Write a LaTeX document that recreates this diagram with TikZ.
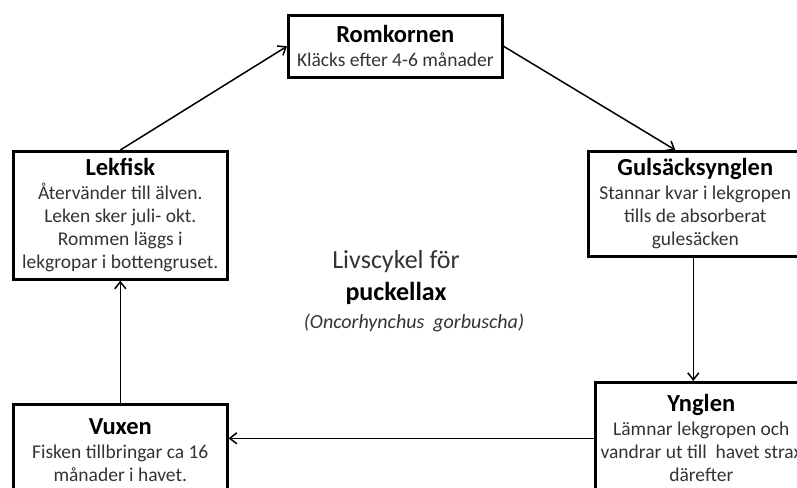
\documentclass[tikz,border=0pt]{standalone}
\usepackage{fontspec}
\setmainfont{Carlito}
\usetikzlibrary{arrows.meta}
\definecolor{bodygray}{HTML}{333333}
\tikzset{
  stagebox/.style={draw=black, line width=2.6pt, fill=white, align=center, inner sep=2pt,
    font=\fontsize{19.5}{23}\selectfont, text=bodygray, anchor=north west},
  conn/.style={line width=1.5pt, -{Straight Barb[length=7pt,width=11pt,line width=1.5pt]}},
}
\newcommand{\stitle}[1]{{\fontsize{24.5}{26}\selectfont\bfseries\color{black}#1}\\[1pt]}
\begin{document}
\begin{tikzpicture}[x=1pt,y=-1pt]
\useasboundingbox (0,0) rectangle (797,487);
\clip (0,0) rectangle (797,487);
\node[stagebox, minimum width=214pt, minimum height=62pt] (rom) at (287,14)
  {\stitle{Romkornen}Kläcks efter 4-6 månader};
\node[stagebox, minimum width=214pt, minimum height=105pt] (gul) at (587,150)
  {\stitle{Gulsäcksynglen}Stannar kvar i lekgropen\\tills de absorberat\\gulesäcken};
\node[stagebox, minimum width=212pt, minimum height=112pt] (yng) at (594,381)
  {\stitle{Ynglen}Lämnar lekgropen och\\vandrar ut till\ \ havet strax\\därefter};
\node[stagebox, minimum width=214pt, minimum height=92pt] (vux) at (12,403)
  {\stitle{Vuxen}Fisken tillbringar ca 16\\månader i havet.};
\node[stagebox, minimum width=214pt, minimum height=128pt] (lek) at (12,150)
  {\stitle{Lekfisk}Återvänder till älven.\\Leken sker juli- okt.\\Rommen läggs i\\lekgropar i bottengruset.};

\node[text=bodygray, font=\fontsize{26}{30}\selectfont] (t1) at (396,262) {Livscykel för};
\node[text=black, font=\fontsize{26}{30}\selectfont\bfseries] (t2) at (396,293) {puckellax};
\node[text=bodygray, font=\fontsize{20}{24}\selectfont\itshape] (t3) at (414,323) {(Oncorhynchus\ \ gorbuscha)};

\draw[conn] (lek.north) -- (rom.west);
\draw[conn] (rom.east) -- ([xshift=-20pt]gul.north);
\draw[conn] ([xshift=-2pt]gul.south) -- ([xshift=-2pt]gul.south |- yng.north);
\draw[conn] (yng.west) -- (yng.west -| vux.east);
\draw[conn] (vux.north) -- (lek.south);
\end{tikzpicture}
\end{document}
